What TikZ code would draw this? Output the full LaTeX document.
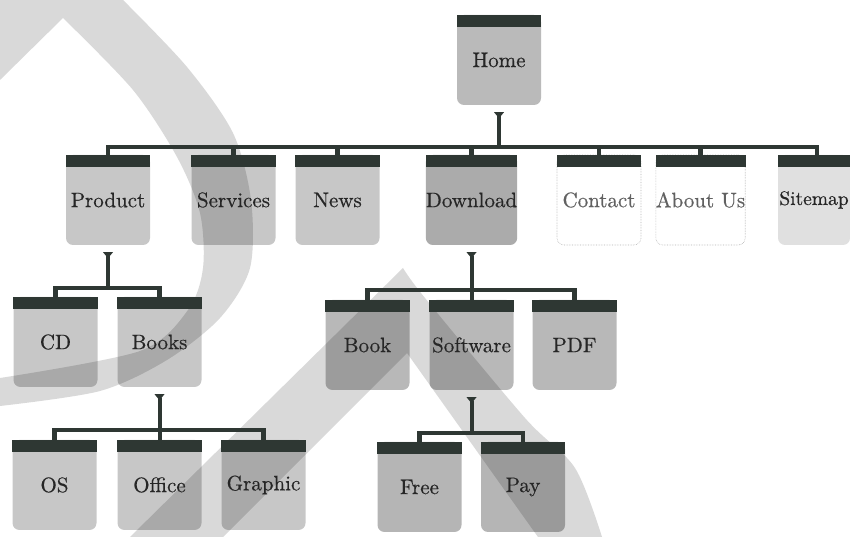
\documentclass[tikz,border=0pt]{standalone}
\usepackage{fontspec}
\newfontfamily\boxfont{lmroman10-regular.otf}[FakeBold=0.5]
\definecolor{bardark}{HTML}{2E3733}
\definecolor{txtc}{HTML}{262626}
\definecolor{wmc}{HTML}{D9D9D9}
\tikzset{
  tab/.style={rectangle, minimum width=84pt, minimum height=90pt, inner sep=0pt, rounded corners=7pt, fill=black, fill opacity=#1, text opacity=1, text=txtc, font=\boxfont\fontsize{21}{24}\selectfont},
  tab/.default=0.22,
  plain/.style={rectangle, minimum width=84pt, minimum height=90pt, inner sep=0pt, rounded corners=7pt, fill=white, draw=black!30, densely dotted, line width=0.6pt, text=black!62, font=\boxfont\fontsize{21}{24}\selectfont},
  bus/.style={draw=bardark, line width=4.5pt},
  stem/.style={draw=bardark, line width=4pt},
  wm/.style={fill=wmc},
}
\newcommand\mkbar[1]{\fill[bardark] (#1.north west) rectangle ([yshift=-12pt]#1.north east);}
\newcommand\mkptr[1]{\fill[bardark] ([xshift=-5pt,yshift=-7pt]#1.south) -- ++(10pt,0pt) -- ++(-5pt,-6pt) -- cycle;}
\begin{document}
\begin{tikzpicture}[x=1pt,y=1pt]
\useasboundingbox (0,0) rectangle (850,537);
% watermark shapes
\fill[wm] (0,537) -- plot[smooth] coordinates {(123,537) (187,470) (233,404) (251,337) (250,269) (220,219) (167,177) (100,146) (0,131)} -- (0,159) -- plot[smooth] coordinates {(0,159) (140,186) (188,227) (203,269) (200,324) (177,380) (133,447) (63,519)} -- (0,457) -- cycle;
\fill[wm] (130,0) -- (403,269) -- plot[smooth] coordinates {(403,269) (425,239) (525,119) (575,69) (602,0)} -- (538,0) -- (407,184) -- (223,0) -- cycle;
% nodes
\node[tab=0.27] (home) at (499,477) {Home};
\node[tab] (product) at (108,337) {Product};
\node[tab] (services) at (233.5,337) {Services};
\node[tab] (news) at (337.5,337) {News};
\node[tab=0.33] (download) at (471.5,337) {Download};
\node[plain] (contact) at (599,337) {Contact};
\node[plain] (about) at (700.5,337) {About Us};
\node[tab=0.12, minimum width=72pt, font=\boxfont\fontsize{19.5}{23}\selectfont] (sitemap) at (814,337) {Sitemap};
\node[tab] (cd) at (55.5,195) {CD};
\node[tab] (books) at (159.5,195) {Books};
\node[tab=0.28] (book) at (367.5,192) {Book};
\node[tab=0.28] (software) at (471.5,192) {Software};
\node[tab=0.28] (pdf) at (574.5,192) {PDF};
\node[tab] (os) at (54.5,52) {OS};
\node[tab] (office) at (159.5,52) {Office};
\node[tab] (graphic) at (263.5,52) {Graphic};
\node[tab=0.29] (free) at (419.5,50) {Free};
\node[tab=0.29] (pay) at (523,50) {Pay};
\foreach \n in {home,product,services,news,download,contact,about,sitemap,cd,books,book,software,pdf,os,office,graphic,free,pay} {\mkbar{\n}}
% main bus
\coordinate (mb) at (499,390);
\draw[bus] (product.north) |- (mb) -| ([xshift=3pt]sitemap.north);
\foreach \n in {services,news,download,contact,about} {\draw[bus] (\n.north) -- (\n.north |- mb);}
\mkptr{home}
\draw[stem] ([yshift=-11pt]home.south) -- (home.south |- mb);
% product children
\coordinate (pb) at (108,249);
\draw[bus] (cd.north) |- (pb) -| (books.north);
\mkptr{product}
\draw[stem] ([yshift=-11pt]product.south) -- (product.south |- pb);
% download children
\coordinate (db) at (471.5,247);
\draw[bus] (book.north) |- (db) -| (pdf.north);
\mkptr{download}
\draw[stem] ([yshift=-11pt]download.south) -- (software.north);
% books children
\coordinate (bb) at (159.5,107);
\draw[bus] (os.north) |- (bb) -| (graphic.north);
\mkptr{books}
\draw[stem] ([yshift=-11pt]books.south) -- (office.north);
% software children
\coordinate (sb) at (471.5,104);
\draw[bus] (free.north) |- (sb) -| (pay.north);
\mkptr{software}
\draw[stem] ([yshift=-11pt]software.south) -- (software.south |- sb);
\end{tikzpicture}
\end{document}
